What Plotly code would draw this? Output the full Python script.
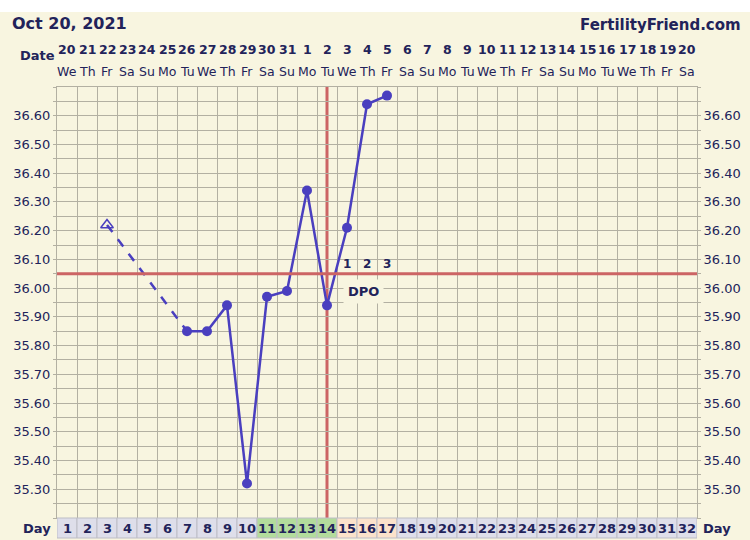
import plotly.graph_objects as go

# ---------------- data ----------------
cycle_days = list(range(1, 33))
dates = [20, 21, 22, 23, 24, 25, 26, 27, 28, 29, 30, 31,
         1, 2, 3, 4, 5, 6, 7, 8, 9, 10, 11, 12, 13, 14, 15, 16, 17, 18, 19, 20]
weekdays = ["We", "Th", "Fr", "Sa", "Su", "Mo", "Tu"] * 5
weekdays = weekdays[:32]

open_day = [3]
open_temp = [36.22]
temp_days = [7, 8, 9, 10, 11, 12, 13, 14, 15, 16, 17]
temps = [35.85, 35.85, 35.94, 35.32, 35.97, 35.99, 36.34, 35.94, 36.21, 36.64, 36.67]

coverline = 36.05
ovulation_day = 14
dpo_days = [15, 16, 17]
dpo_labels = ["1", "2", "3"]
fertile_days = [11, 12, 13, 14]
post_days = [15, 16, 17]

y_ticks = [round(35.20 + 0.05 * i, 2) for i in range(31)]
y_labels = [f"{v:.2f}" if (round(v * 100) % 10 == 0 and 35.3 <= v <= 36.6) else "" for v in y_ticks]

# ---------------- style ----------------
BG = "#f8f5e0"
GRID = "#b3b0a2"
TXT = "#22235a"
LINE = "#4a3fbf"
RED = "#cc6464"
FONT = "DejaVu Sans"

L, R, T, B = 57, 53, 87, 22
W, H = 750, 540
PH = H - T - B


def py(ypix):
    return (H - B - ypix) / PH


def px(xpix):
    return (xpix - L) / (W - L - R)


fig = go.Figure()

# dashed connector from open point
fig.add_trace(go.Scatter(x=[open_day[0], temp_days[0]], y=[open_temp[0], temps[0]],
                         mode="lines", line=dict(color=LINE, width=2.5, dash="dash"),
                         hoverinfo="skip", showlegend=False))
fig.add_trace(go.Scatter(x=open_day, y=open_temp, mode="markers",
                         marker=dict(symbol="triangle-up-open", size=11, color=LINE,
                                     line=dict(width=1.5, color=LINE)),
                         showlegend=False))
fig.add_trace(go.Scatter(x=temp_days, y=temps, mode="lines+markers",
                         line=dict(color=LINE, width=2.5),
                         marker=dict(symbol="circle", size=10, color=LINE),
                         showlegend=False))
# right axis dummy
fig.add_trace(go.Scatter(x=[None], y=[None], yaxis="y2", showlegend=False))

shapes = []
# white strip at the top of the screenshot
shapes.append(dict(type="rect", xref="paper", yref="paper", x0=px(-5), x1=px(760),
                   y0=py(12), y1=py(-5), fillcolor="white", line=dict(width=0)))
# coverline and ovulation line
shapes.append(dict(type="line", xref="paper", yref="y", x0=0, x1=1, y0=coverline, y1=coverline,
                   line=dict(color=RED, width=3), layer="above"))
shapes.append(dict(type="line", xref="x", yref="paper", x0=ovulation_day, x1=ovulation_day,
                   y0=0, y1=1, line=dict(color=RED, width=3), layer="below"))

# day row cells
for d in cycle_days:
    if d in fertile_days:
        c = "#b3dc9c"
    elif d in post_days:
        c = "#fbe2cb"
    else:
        c = "#dedeea"
    shapes.append(dict(type="rect", xref="x", yref="paper", x0=d - 0.5, x1=d + 0.5,
                       y0=py(538), y1=py(518), fillcolor=c,
                       line=dict(color="#bdbdc6", width=1)))

annotations = []
annotations.append(dict(text="<b>Oct 20, 2021</b>", xref="paper", yref="paper", x=px(10), y=py(24),
                        xanchor="left", yanchor="middle", showarrow=False,
                        font=dict(size=16, color=TXT, family=FONT)))
annotations.append(dict(text="<b>FertilityFriend.com</b>", xref="paper", yref="paper", x=px(743), y=py(25),
                        xanchor="right", yanchor="middle", showarrow=False,
                        font=dict(size=15, color=TXT, family=FONT)))
annotations.append(dict(text="<b>Date</b>", xref="paper", yref="paper", x=px(37), y=py(56),
                        xanchor="center", yanchor="middle", showarrow=False,
                        font=dict(size=13, color=TXT, family=FONT)))
for d, dt, wd in zip(cycle_days, dates, weekdays):
    annotations.append(dict(text=f"<b>{dt}</b>", xref="x", yref="paper", x=d, y=py(49),
                            xanchor="center", yanchor="middle", showarrow=False,
                            font=dict(size=12.5, color=TXT, family=FONT)))
    annotations.append(dict(text=wd, xref="x", yref="paper", x=d, y=py(71),
                            xanchor="center", yanchor="middle", showarrow=False,
                            font=dict(size=12.5, color=TXT, family=FONT)))
    annotations.append(dict(text=f"<b>{d}</b>", xref="x", yref="paper", x=d, y=py(528),
                            xanchor="center", yanchor="middle", showarrow=False,
                            font=dict(size=13, color=TXT, family=FONT)))
annotations.append(dict(text="<b>Day</b>", xref="paper", yref="paper", x=px(37), y=py(528),
                        xanchor="center", yanchor="middle", showarrow=False,
                        font=dict(size=13, color=TXT, family=FONT)))
annotations.append(dict(text="<b>Day</b>", xref="paper", yref="paper", x=px(717), y=py(528),
                        xanchor="center", yanchor="middle", showarrow=False,
                        font=dict(size=13, color=TXT, family=FONT)))
for d, lab in zip(dpo_days, dpo_labels):
    annotations.append(dict(text=f"<b>{lab}</b>", xref="x", yref="paper", x=d, y=py(264),
                            xanchor="center", yanchor="middle", showarrow=False,
                            font=dict(size=12, color=TXT, family=FONT)))
annotations.append(dict(text="<b>DPO</b>", xref="x", yref="paper", x=15.8, y=py(291),
                        xanchor="center", yanchor="middle", showarrow=False, bgcolor=BG,
                        borderpad=4, font=dict(size=13, color=TXT, family=FONT)))

axis_y = dict(range=[35.20, 36.70], tickvals=y_ticks, ticktext=y_labels, showgrid=True,
              gridcolor=GRID, gridwidth=1, zeroline=False, ticks="outside", ticklen=3,
              tickcolor=GRID, tickfont=dict(size=13, color=TXT, family=FONT),
              showline=True, linecolor=GRID, fixedrange=True, automargin=False)

fig.update_layout(
    width=W, height=H,
    margin=dict(l=L, r=R, t=T, b=B, autoexpand=False),
    paper_bgcolor=BG, plot_bgcolor=BG,
    xaxis=dict(range=[0.5, 32.5], tick0=0.5, dtick=1, showticklabels=False, showgrid=True,
               gridcolor=GRID, gridwidth=1, zeroline=False, showline=True, linecolor=GRID,
               mirror=True, ticks="", automargin=False, fixedrange=True),
    yaxis=axis_y,
    yaxis2=dict(axis_y, overlaying="y", side="right", showgrid=False),
    shapes=shapes,
    annotations=annotations,
    showlegend=False,
    font=dict(family=FONT, color=TXT),
)

fig.write_html("out.html", config={"displayModeBar": False},
               post_script="document.body.style.margin='0';document.body.style.overflow='hidden';")
